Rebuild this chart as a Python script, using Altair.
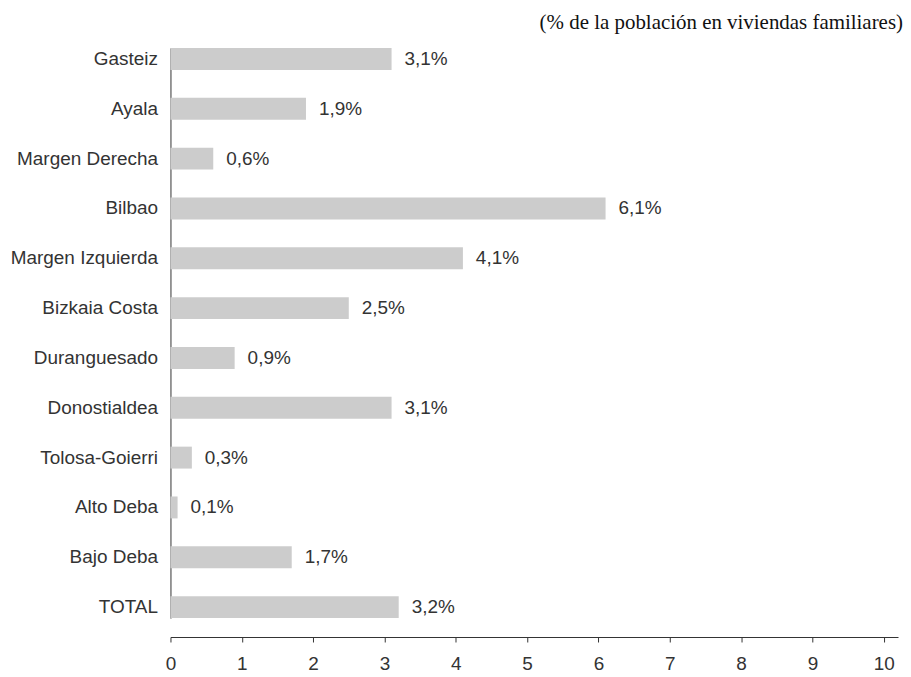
import altair as alt
import pandas as pd

categories = ["Gasteiz", "Ayala", "Margen Derecha", "Bilbao", "Margen Izquierda",
              "Bizkaia Costa", "Duranguesado", "Donostialdea", "Tolosa-Goierri",
              "Alto Deba", "Bajo Deba", "TOTAL"]
values = [3.1, 1.9, 0.6, 6.1, 4.1, 2.5, 0.9, 3.1, 0.3, 0.1, 1.7, 3.2]
x_ticks = [0, 1, 2, 3, 4, 5, 6, 7, 8, 9, 10]

df = pd.DataFrame({"zona": categories, "valor": values})

font = "Liberation Sans"
fs = 19
txt = "#333333"

y_enc = alt.Y("zona:N", sort=categories, title=None,
              scale=alt.Scale(range=[3, 575], paddingInner=0.56, paddingOuter=0),
              axis=alt.Axis(ticks=False, labelPadding=13, labelFontSize=fs,
                            labelFont=font, labelColor=txt, domainColor="#333",
                            domainWidth=1))
x_enc = alt.X("valor:Q", title=None,
              scale=alt.Scale(domain=[0, 10.2], nice=False),
              axis=alt.Axis(values=x_ticks, format="d", grid=False, tickSize=5,
                            tickColor="#333", domainColor="#333", labelPadding=13,
                            labelFlush=False,
                            labelFontSize=fs, labelFont=font, labelColor=txt))

bars = alt.Chart(df).mark_bar(color="#cccccc").encode(x=x_enc, y=y_enc)

labels = alt.Chart(df).transform_calculate(
    lab="replace(format(datum.valor, '.1f'), '.', ',') + '%'"
).mark_text(align="left", baseline="middle", dx=13, fontSize=fs, font=font,
            color=txt).encode(
    x=alt.X("valor:Q"), y=alt.Y("zona:N", sort=categories), text="lab:N")

chart = (bars + labels).properties(
    width=730, height=594,
    padding={"left": 2, "top": 3, "right": 0, "bottom": 0},
    title=alt.TitleParams("(% de la población en viviendas familiares)",
                          anchor="end", font="Liberation Serif", fontSize=21,
                          fontWeight="normal", color="#111", dx=5, offset=12),
).configure_view(stroke=None)

chart.save("out.html", embed_options={"renderer": "svg", "actions": False})
